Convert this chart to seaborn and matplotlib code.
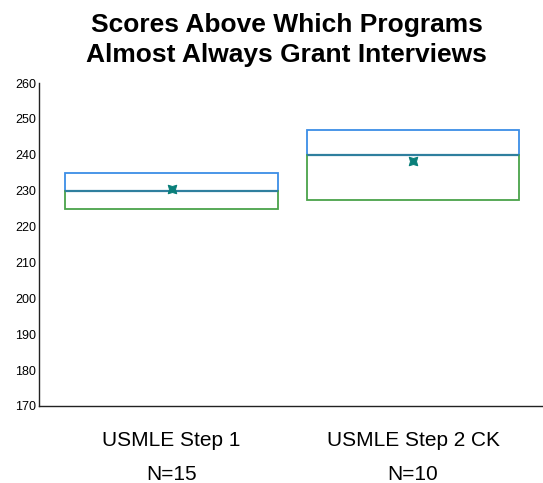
import matplotlib
matplotlib.use("Agg")
import matplotlib.pyplot as plt
import seaborn as sns
import pandas as pd
import numpy as np

categories = ["USMLE Step 1", "USMLE Step 2 CK"]
n_labels = ["N=15", "N=10"]
q1 = [225, 227.5]
median = [230, 240]
q3 = [235, 247]
mean = [230.5, 238.3]
y_ticks = [170, 180, 190, 200, 210, 220, 230, 240, 250, 260]

sns.set_style("white")
plt.rcParams["font.family"] = ["Liberation Sans", "DejaVu Sans"]
plt.rcParams["text.color"] = "black"
plt.rcParams["xtick.color"] = "black"
plt.rcParams["ytick.color"] = "black"

df = pd.DataFrame({"cat": categories, "q1": q1, "med": median, "q3": q3, "mean": mean})
df["upper"] = df["q3"] - df["med"]
df["lower"] = df["med"] - df["q1"]

fig = plt.figure(figsize=(5.43, 4.83), dpi=100)
ax = fig.add_axes([39/543, 77/483, 1 - 39/543, (406-83)/483])

blue = "#3c8ee6"
green = "#4aa34a"
sns.barplot(data=df, x="cat", y="upper", bottom=df["med"].values, fill=False,
            color=blue, linewidth=1.3, width=0.88, ax=ax, errorbar=None, saturation=1)
sns.barplot(data=df, x="cat", y="lower", bottom=df["q1"].values, fill=False,
            color=green, linewidth=1.3, width=0.88, ax=ax, errorbar=None, saturation=1)
# median lines
for i, m in enumerate(df["med"]):
    ax.hlines(m, i - 0.44, i + 0.44, color="#2f7f9e", linewidth=1.6, zorder=4)
sns.scatterplot(data=df, x="cat", y="mean", marker=(4, 1, 45), s=75,
                color="#0a7f7a", edgecolor="#0a7f7a", ax=ax, zorder=5)

ax.set_ylim(170, 260)
ax.set_xlim(-0.549, 1.538)
ax.set_yticks(y_ticks)
ax.set_yticklabels([str(t) for t in y_ticks], fontsize=9)
ax.set_xticks(range(len(categories)))
ax.set_xticklabels([f"{c}\n{n}" for c, n in zip(categories, n_labels)],
                   fontsize=15, linespacing=1.98)
ax.tick_params(axis="x", length=0, pad=18)
ax.tick_params(axis="y", length=0, pad=2)
ax.set_xlabel("")
ax.set_ylabel("")
for s in ["top", "right"]:
    ax.spines[s].set_visible(False)
for s in ["left", "bottom"]:
    ax.spines[s].set_color("#222222")
    ax.spines[s].set_linewidth(1.0)

fig.suptitle("Scores Above Which Programs\nAlmost Always Grant Interviews",
             x=0.528, y=0.973, fontsize=19, fontweight="bold", linespacing=1.3)

fig.savefig("out.png", dpi=100)
